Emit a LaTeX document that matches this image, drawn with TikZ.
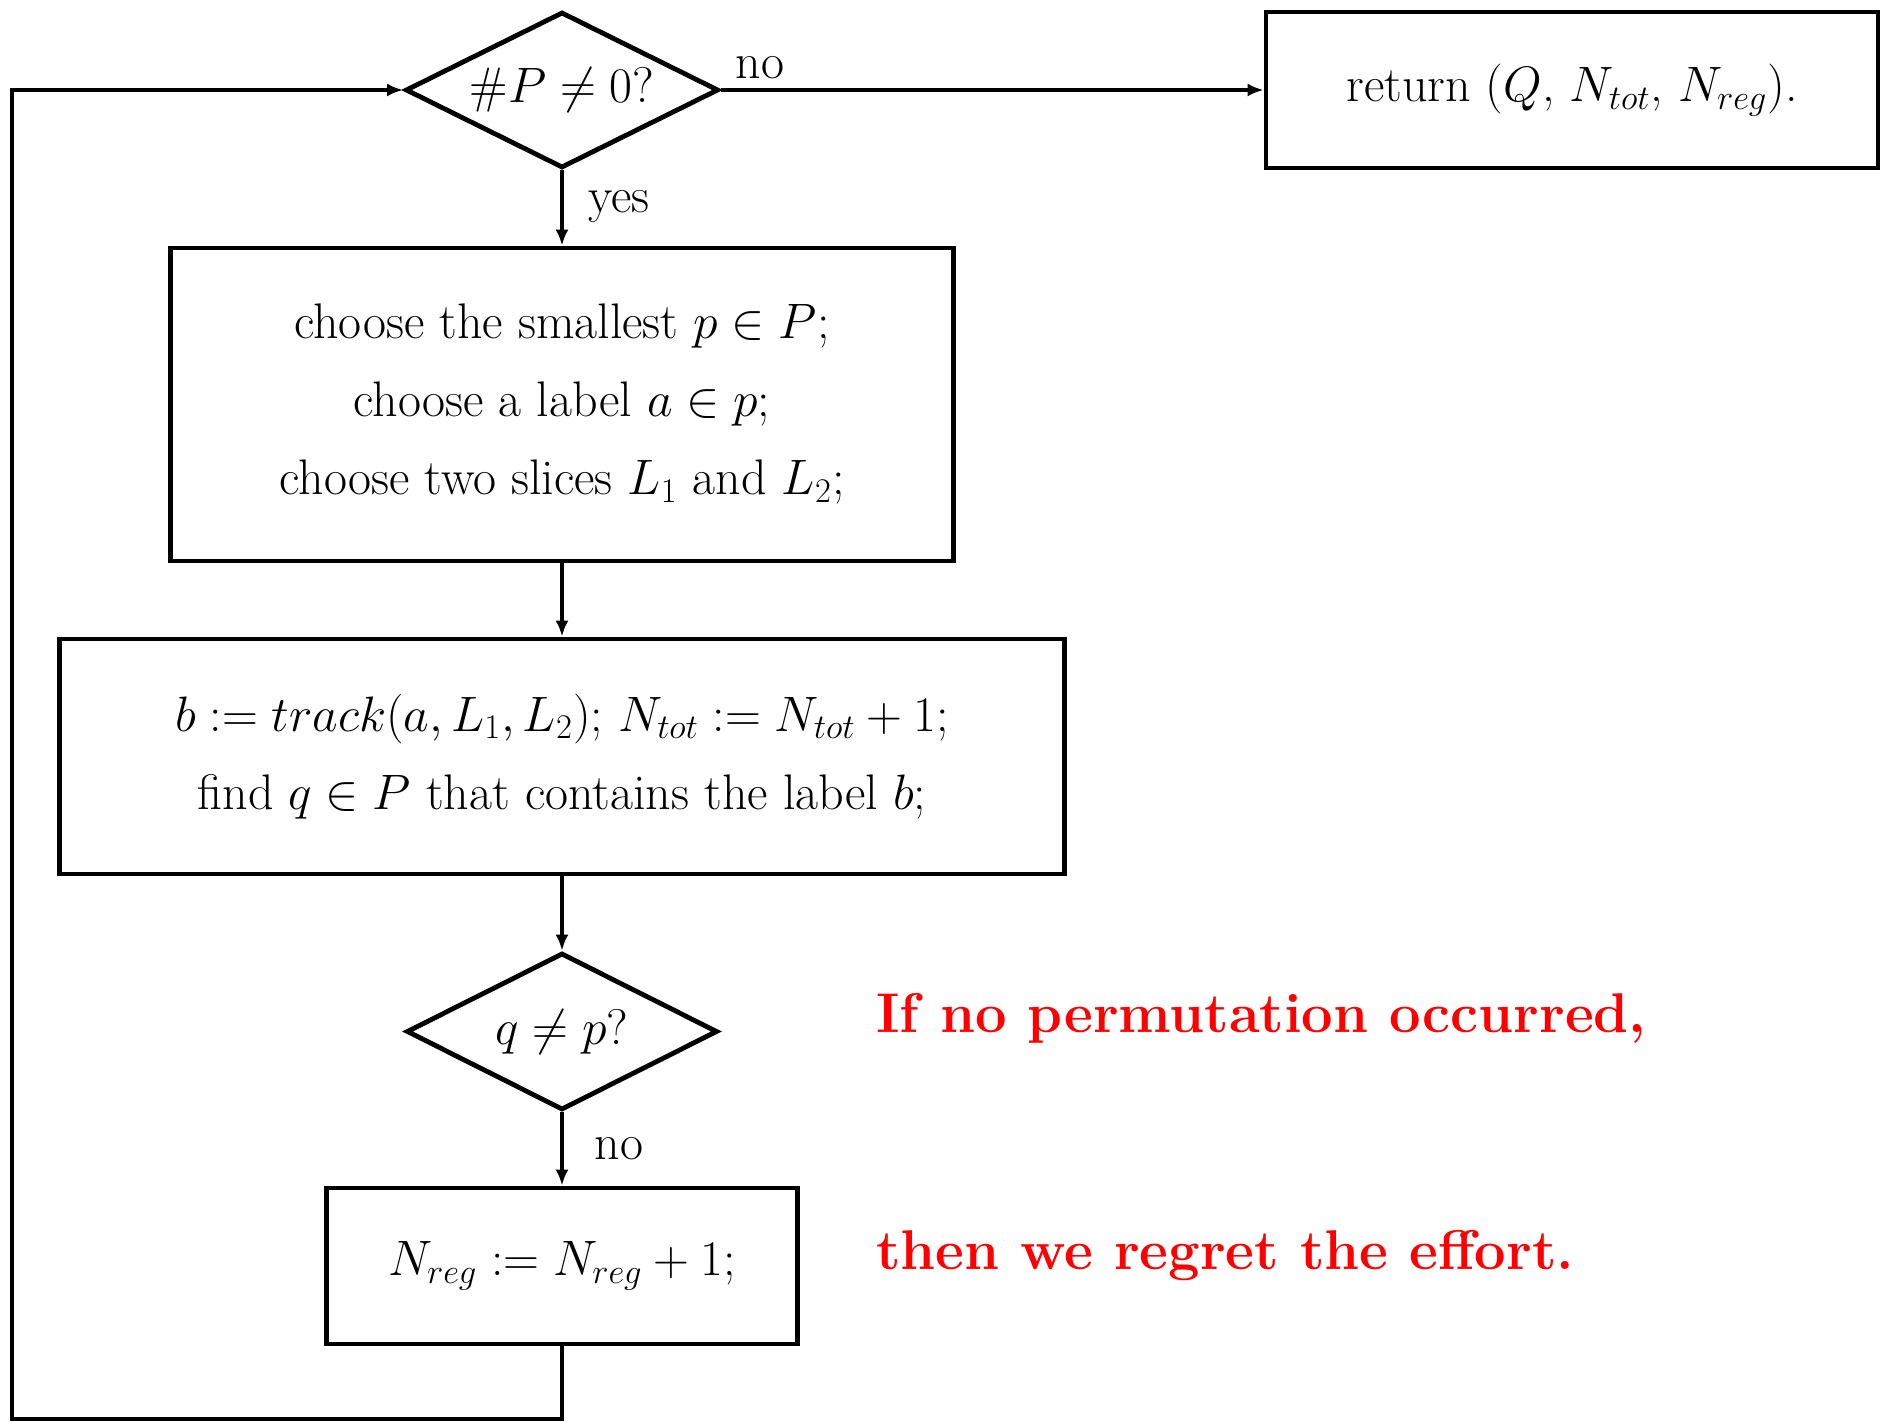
\documentclass[tikz,border=0pt]{standalone}
\usetikzlibrary{shapes.geometric,arrows.meta}
\begin{document}
\begin{tikzpicture}[x=0.5pt,y=-0.5pt,
  every node/.style={font=\fontsize{25}{39}\selectfont},
  box/.style={draw,line width=2.4pt,rectangle,inner sep=0pt,align=center},
  dia/.style={draw,line width=2.4pt,diamond,aspect=2,inner sep=0pt},
  lbl/.style={inner sep=0pt},
  redtxt/.style={inner sep=0pt,anchor=west,text=red,font=\fontsize{28}{34}\selectfont\bfseries},
  arr/.style={line width=2.4pt,-{Latex[length=8pt,width=6.5pt]}}]
\useasboundingbox (0,0) rectangle (1887,1422);
\node[dia,minimum width=156.5pt,minimum height=78pt] (d1) at (562,90) {$\#P\neq 0$?};
\node[box,minimum width=306pt,minimum height=78pt] (ret) at (1572,90) {return ($Q$, $N_{tot}$, $N_{reg}$).};
\node[box,minimum width=391.5pt,minimum height=156.5pt] (b2) at (562,404.5) {choose the smallest $p\in P$;\\ choose a label $a\in p$;\\ choose two slices $L_1$ and $L_2$;};
\node[box,minimum width=502.5pt,minimum height=117.5pt] (b3) at (562,756.5) {$b:=track(a,L_1,L_2)$; $N_{tot}:=N_{tot}+1$;\\ find $q\in P$ that contains the label $b$;};
\node[dia,minimum width=155.5pt,minimum height=78.5pt] (d2) at (562,1031.5) {$q\neq p$?};
\node[box,minimum width=235.5pt,minimum height=78pt] (b4) at (562,1266) {$N_{reg}:=N_{reg}+1$;};
\node[lbl] (no1) at (760,68) {no};
\node[lbl] (yes) at (619,207) {yes};
\node[lbl] (no2) at (619,1149) {no};
\node[redtxt] (r1) at (876,1018) {If no permutation occurred,};
\node[redtxt] (r2) at (876,1256) {then we regret the effort.};
\coordinate (bl) at (12,1419);
\draw[arr] (d1.east) -- (ret.west);
\draw[arr] (d1.south) -- (b2.north);
\draw[arr] (b2.south) -- (b3.north);
\draw[arr] (b3.south) -- (d2.north);
\draw[arr] (d2.south) -- (b4.north);
\draw[arr] (b4.south) |- (bl) |- (d1.west);
\end{tikzpicture}
\end{document}
